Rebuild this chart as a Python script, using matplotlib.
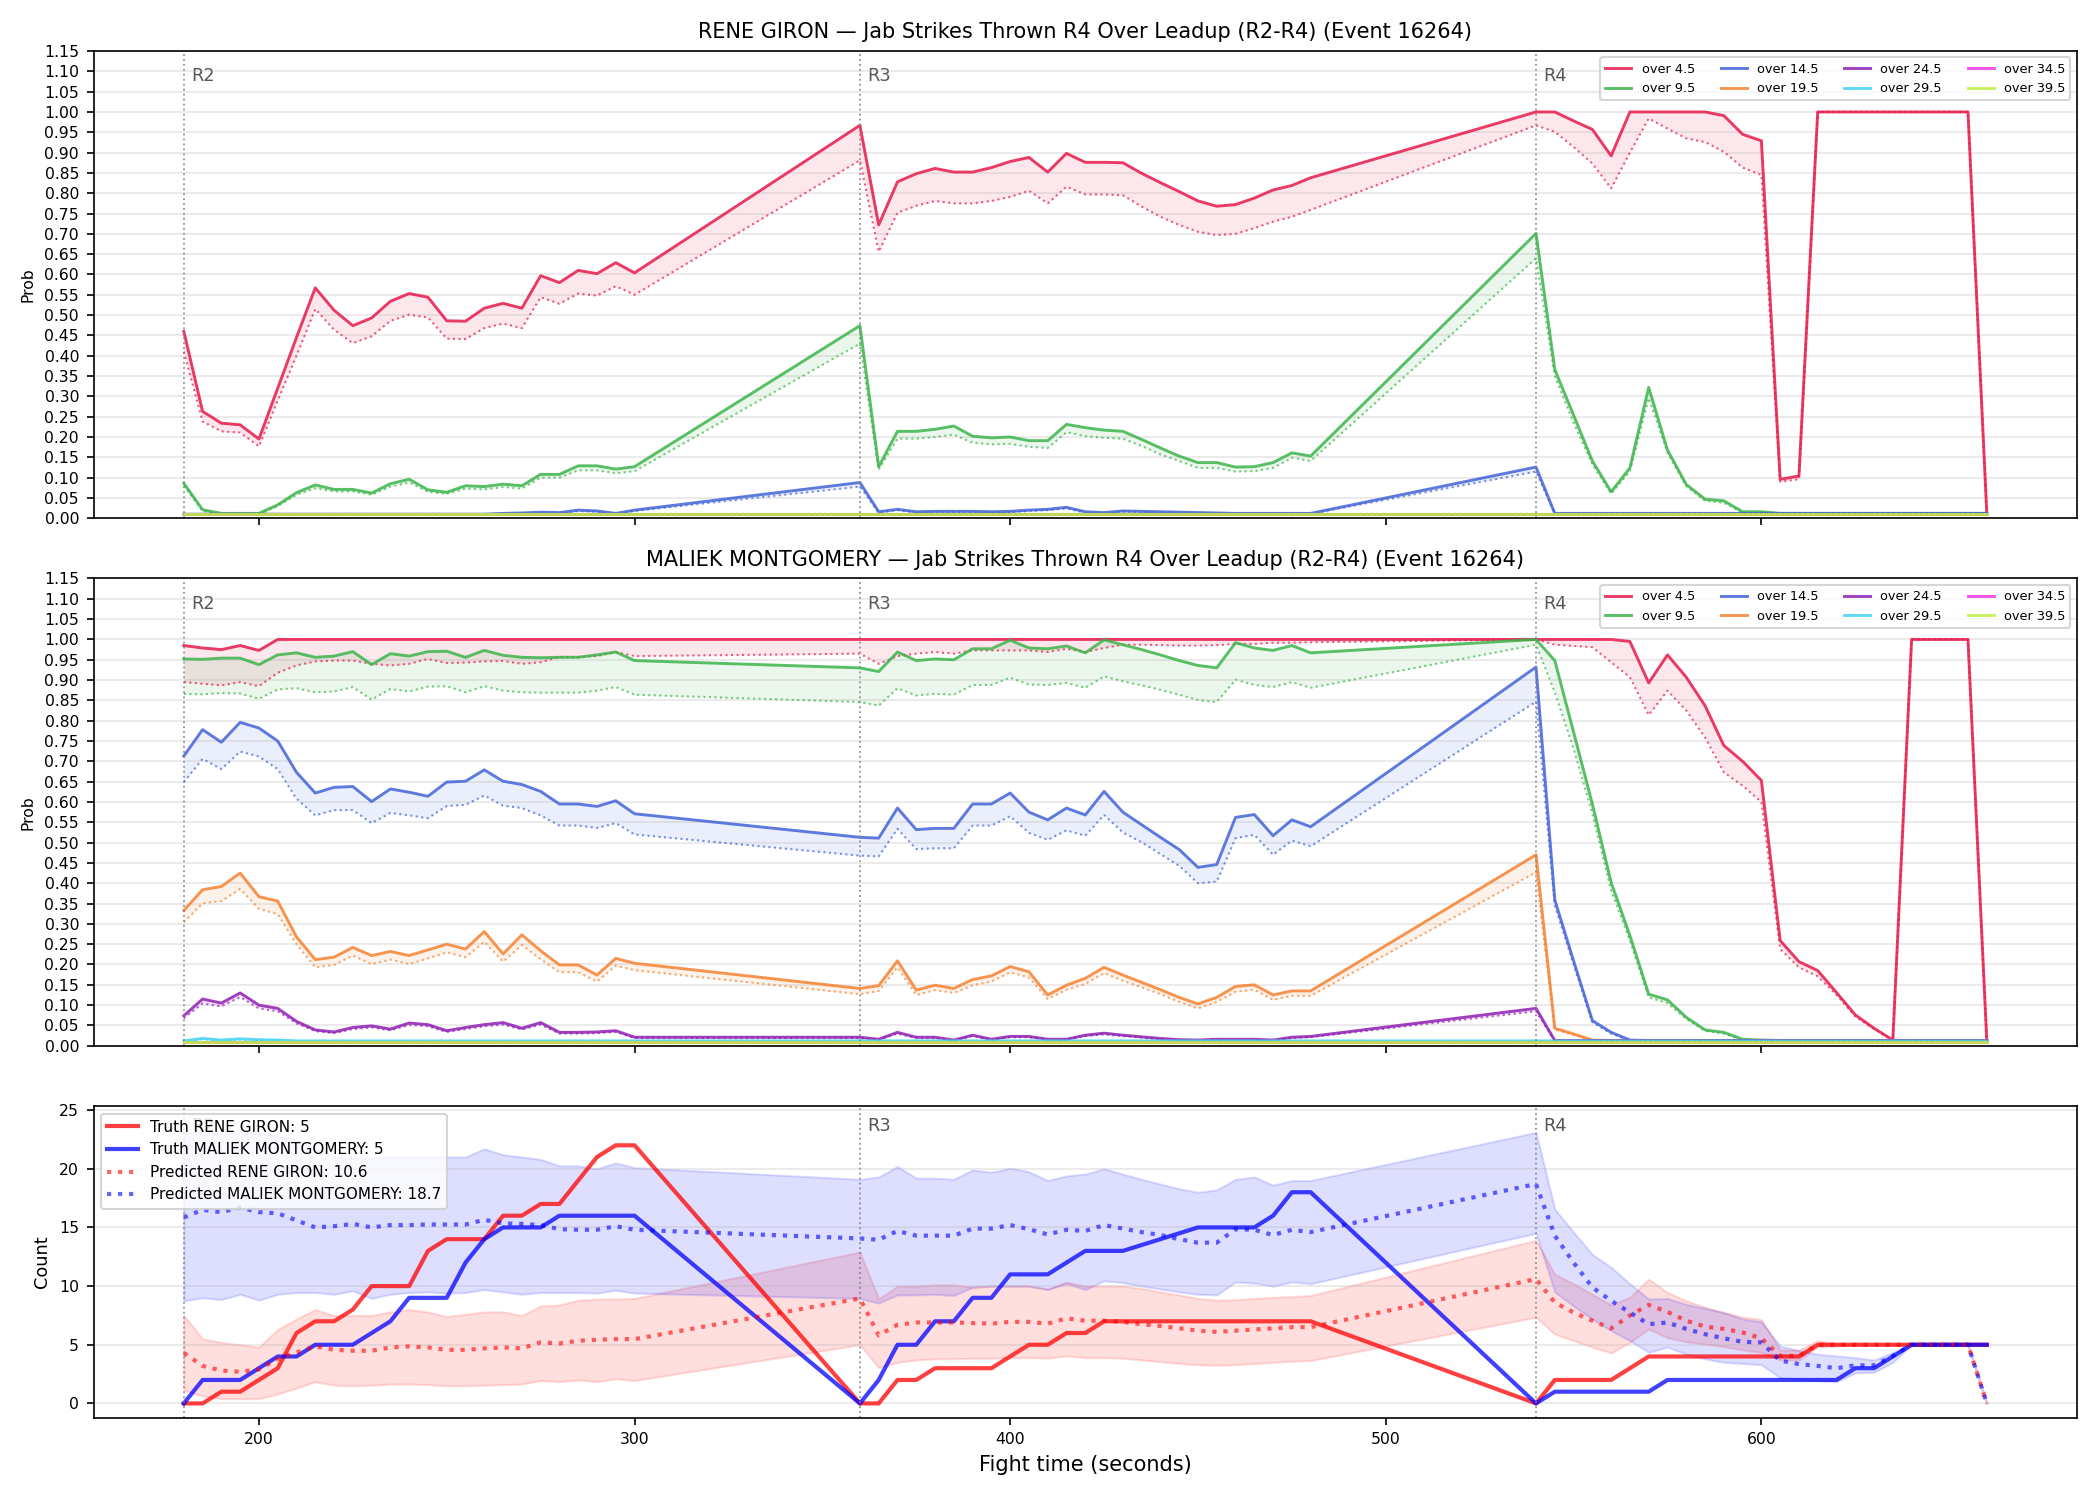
import matplotlib
matplotlib.use("Agg")
import matplotlib.pyplot as plt

# fight time stamps (s): R2, R3, R4 leadup windows
t = list(range(180, 301, 5)) + list(range(360, 481, 5)) + list(range(540, 661, 5))
rounds = [180, 360, 540]
round_names = ["R2", "R3", "R4"]

lines_names = ["over 4.5", "over 9.5", "over 14.5", "over 19.5",
               "over 24.5", "over 29.5", "over 34.5", "over 39.5"]
colors = ["#e6194b", "#3cb44b", "#4363d8", "#f58231",
          "#911eb4", "#42d4f4", "#f032e6", "#bfef45"]

# ---- RENE GIRON probabilities (solid) and lower dotted curve
giron_o45 = [0.46, 0.263, 0.234, 0.23, 0.195, 0.32, 0.445, 0.567, 0.512, 0.474, 0.493, 0.534, 0.553,
             0.544, 0.486, 0.485, 0.517, 0.529, 0.517, 0.597, 0.58, 0.61, 0.602, 0.629, 0.604,
             0.967, 0.722, 0.828, 0.848, 0.861, 0.852, 0.852, 0.863, 0.878, 0.888, 0.852, 0.898, 0.876,
             0.876, 0.875, 0.849, 0.826, 0.804, 0.781, 0.768, 0.772, 0.788, 0.808, 0.819, 0.838,
             1.0, 1.0, 0.978, 0.957, 0.892, 1.0, 1.0, 1.0, 1.0, 1.0, 0.991, 0.945, 0.929,
             0.096, 0.104, 1.0, 1.0, 1.0, 1.0, 1.0, 1.0, 1.0, 1.0, 1.0, 0.014]
giron_o45_lo = [0.41, 0.238, 0.214, 0.211, 0.177, 0.29, 0.40, 0.515, 0.464, 0.431, 0.448, 0.486, 0.501,
                0.494, 0.442, 0.441, 0.468, 0.479, 0.468, 0.544, 0.528, 0.553, 0.548, 0.571, 0.55,
                0.881, 0.656, 0.752, 0.769, 0.781, 0.775, 0.775, 0.781, 0.791, 0.806, 0.775, 0.816, 0.797,
                0.797, 0.795, 0.767, 0.742, 0.722, 0.705, 0.697, 0.7, 0.714, 0.73, 0.742, 0.759,
                0.967, 0.951, 0.914, 0.873, 0.812, 0.9, 0.984, 0.959, 0.935, 0.926, 0.902, 0.863, 0.845,
                0.09, 0.096, 1.0, 1.0, 1.0, 1.0, 1.0, 1.0, 1.0, 1.0, 1.0, 0.014]
giron_o95 = [0.086, 0.021, 0.012, 0.012, 0.012, 0.033, 0.063, 0.082, 0.071, 0.071, 0.062, 0.085, 0.096,
             0.07, 0.064, 0.08, 0.078, 0.084, 0.08, 0.108, 0.108, 0.129, 0.129, 0.121, 0.127,
             0.474, 0.127, 0.214, 0.214, 0.219, 0.227, 0.202, 0.198, 0.2, 0.191, 0.191, 0.231, 0.223,
             0.217, 0.214, 0.194, 0.173, 0.153, 0.137, 0.137, 0.126, 0.127, 0.137, 0.161, 0.153,
             0.701, 0.366, 0.254, 0.141, 0.065, 0.124, 0.322, 0.168, 0.083, 0.047, 0.043, 0.016, 0.016,
             0.012, 0.012, 0.012, 0.012, 0.012, 0.012, 0.012, 0.012, 0.012, 0.012, 0.012, 0.012]
giron_o95_lo = [0.08, 0.018, 0.01, 0.01, 0.01, 0.03, 0.058, 0.074, 0.066, 0.066, 0.058, 0.078, 0.088,
                0.065, 0.06, 0.073, 0.071, 0.077, 0.073, 0.1, 0.1, 0.118, 0.118, 0.111, 0.116,
                0.43, 0.12, 0.196, 0.196, 0.2, 0.206, 0.186, 0.182, 0.183, 0.176, 0.173, 0.212, 0.202,
                0.198, 0.196, 0.178, 0.157, 0.141, 0.124, 0.124, 0.115, 0.116, 0.124, 0.149, 0.141,
                0.64, 0.35, 0.235, 0.133, 0.061, 0.116, 0.296, 0.161, 0.079, 0.043, 0.038, 0.014, 0.014,
                0.011, 0.011, 0.011, 0.011, 0.011, 0.011, 0.011, 0.011, 0.011, 0.011, 0.011, 0.011]
giron_o145 = [0.01, 0.01, 0.01, 0.01, 0.01, 0.01, 0.01, 0.01, 0.01, 0.01, 0.01, 0.01, 0.01,
              0.01, 0.01, 0.01, 0.01, 0.012, 0.013, 0.015, 0.014, 0.02, 0.018, 0.012, 0.02,
              0.088, 0.016, 0.022, 0.016, 0.017, 0.017, 0.017, 0.016, 0.017, 0.02, 0.022, 0.027, 0.016,
              0.014, 0.018, 0.017, 0.016, 0.015, 0.014, 0.013, 0.012, 0.012, 0.012, 0.012, 0.012,
              0.126, 0.012, 0.012, 0.012, 0.012, 0.012, 0.012, 0.012, 0.012, 0.012, 0.012, 0.012, 0.012,
              0.012, 0.012, 0.012, 0.012, 0.012, 0.012, 0.012, 0.012, 0.012, 0.012, 0.012, 0.012]
giron_o145_lo = [0.01, 0.01, 0.01, 0.01, 0.01, 0.01, 0.01, 0.01, 0.01, 0.01, 0.01, 0.01, 0.01,
                 0.01, 0.01, 0.01, 0.01, 0.011, 0.012, 0.013, 0.012, 0.018, 0.016, 0.011, 0.018,
                 0.078, 0.014, 0.02, 0.014, 0.015, 0.015, 0.015, 0.014, 0.015, 0.018, 0.02, 0.024, 0.014,
                 0.013, 0.016, 0.015, 0.014, 0.013, 0.012, 0.012, 0.011, 0.011, 0.011, 0.011, 0.011,
                 0.115, 0.011, 0.011, 0.011, 0.011, 0.011, 0.011, 0.011, 0.011, 0.011, 0.011, 0.011, 0.011,
                 0.011, 0.011, 0.011, 0.011, 0.011, 0.011, 0.011, 0.011, 0.011, 0.011, 0.011, 0.011]
giron_flat = [0.01] * 75  # over 19.5 ... over 39.5 sit on the floor for the whole leadup

# ---- MALIEK MONTGOMERY probabilities
mont_o45 = [0.985, 0.979, 0.975, 0.985, 0.973, 1.0, 1.0, 1.0, 1.0, 1.0, 1.0, 1.0, 1.0,
            1.0, 1.0, 1.0, 1.0, 1.0, 1.0, 1.0, 1.0, 1.0, 1.0, 1.0, 1.0,
            1.0, 1.0, 1.0, 1.0, 1.0, 1.0, 1.0, 1.0, 1.0, 1.0, 1.0, 1.0, 1.0,
            1.0, 1.0, 1.0, 1.0, 1.0, 1.0, 1.0, 1.0, 1.0, 1.0, 1.0, 1.0,
            1.0, 1.0, 1.0, 1.0, 1.0, 0.995, 0.893, 0.962, 0.907, 0.837, 0.739, 0.7, 0.653,
            0.259, 0.207, 0.185, 0.131, 0.076, 0.043, 0.014, 1.0, 1.0, 1.0, 1.0, 0.014]
mont_o45_lo = [0.895, 0.891, 0.887, 0.895, 0.885, 0.918, 0.936, 0.946, 0.948, 0.948, 0.94, 0.936, 0.94,
               0.952, 0.942, 0.943, 0.946, 0.947, 0.94, 0.944, 0.957, 0.957, 0.959, 0.969, 0.959,
               0.965, 0.94, 0.959, 0.965, 0.969, 0.965, 0.973, 0.973, 0.973, 0.973, 0.969, 0.977, 0.969,
               0.979, 0.987, 0.987, 0.986, 0.985, 0.985, 0.986, 0.989, 0.989, 0.992, 0.992, 0.993,
               1.0, 0.987, 0.984, 0.981, 0.944, 0.907, 0.814, 0.874, 0.825, 0.759, 0.673, 0.64, 0.6,
               0.238, 0.193, 0.171, 0.125, 0.072, 0.041, 0.014, 1.0, 1.0, 1.0, 1.0, 0.014]
mont_o95 = [0.952, 0.951, 0.954, 0.954, 0.938, 0.962, 0.967, 0.956, 0.959, 0.97, 0.938, 0.965, 0.959,
            0.97, 0.971, 0.956, 0.973, 0.961, 0.956, 0.955, 0.956, 0.956, 0.962, 0.969, 0.948,
            0.93, 0.921, 0.969, 0.948, 0.952, 0.95, 0.977, 0.977, 0.998, 0.979, 0.977, 0.984, 0.967,
            0.999, 0.987, 0.975, 0.962, 0.948, 0.936, 0.93, 0.992, 0.979, 0.973, 0.985, 0.967,
            1.0, 0.948, 0.772, 0.595, 0.402, 0.271, 0.127, 0.113, 0.07, 0.039, 0.033, 0.016, 0.014,
            0.013, 0.013, 0.013, 0.013, 0.013, 0.013, 0.013, 0.013, 0.013, 0.013, 0.013, 0.013]
mont_o95_lo = [0.866, 0.865, 0.868, 0.867, 0.854, 0.877, 0.88, 0.87, 0.872, 0.883, 0.852, 0.878, 0.872,
               0.884, 0.885, 0.87, 0.885, 0.874, 0.87, 0.869, 0.869, 0.869, 0.874, 0.883, 0.864,
               0.846, 0.837, 0.88, 0.862, 0.866, 0.864, 0.888, 0.888, 0.906, 0.889, 0.888, 0.893, 0.881,
               0.909, 0.897, 0.887, 0.876, 0.864, 0.851, 0.846, 0.901, 0.888, 0.883, 0.895, 0.881,
               0.987, 0.87, 0.731, 0.571, 0.382, 0.259, 0.119, 0.105, 0.066, 0.037, 0.03, 0.014, 0.012,
               0.012, 0.012, 0.012, 0.012, 0.012, 0.012, 0.012, 0.012, 0.012, 0.012, 0.012, 0.012]
mont_o145 = [0.713, 0.778, 0.747, 0.796, 0.782, 0.75, 0.673, 0.622, 0.636, 0.638, 0.601, 0.632, 0.624,
             0.614, 0.649, 0.651, 0.679, 0.651, 0.643, 0.626, 0.595, 0.595, 0.589, 0.603, 0.571,
             0.513, 0.511, 0.585, 0.532, 0.535, 0.535, 0.595, 0.595, 0.622, 0.575, 0.556, 0.585, 0.568,
             0.626, 0.575, 0.544, 0.513, 0.483, 0.439, 0.446, 0.562, 0.569, 0.517, 0.556, 0.539,
             0.932, 0.359, 0.209, 0.062, 0.033, 0.014, 0.013, 0.013, 0.013, 0.013, 0.013, 0.013, 0.013,
             0.013, 0.013, 0.013, 0.013, 0.013, 0.013, 0.013, 0.013, 0.013, 0.013, 0.013, 0.013]
mont_o145_lo = [0.649, 0.706, 0.681, 0.724, 0.712, 0.681, 0.608, 0.567, 0.58, 0.58, 0.548, 0.573, 0.567,
                0.56, 0.59, 0.593, 0.616, 0.591, 0.585, 0.567, 0.542, 0.542, 0.536, 0.548, 0.52,
                0.468, 0.466, 0.534, 0.484, 0.486, 0.486, 0.542, 0.542, 0.565, 0.524, 0.507, 0.53, 0.517,
                0.568, 0.525, 0.501, 0.472, 0.443, 0.4, 0.404, 0.511, 0.519, 0.47, 0.505, 0.491,
                0.847, 0.345, 0.2, 0.058, 0.03, 0.013, 0.012, 0.012, 0.012, 0.012, 0.012, 0.012, 0.012,
                0.012, 0.012, 0.012, 0.012, 0.012, 0.012, 0.012, 0.012, 0.012, 0.012, 0.012, 0.012]
mont_o195 = [0.333, 0.384, 0.392, 0.425, 0.367, 0.356, 0.268, 0.212, 0.218, 0.242, 0.222, 0.232, 0.222,
             0.236, 0.25, 0.238, 0.281, 0.226, 0.273, 0.234, 0.199, 0.199, 0.174, 0.215, 0.203,
             0.141, 0.148, 0.209, 0.137, 0.149, 0.141, 0.163, 0.172, 0.195, 0.182, 0.125, 0.149, 0.166,
             0.193, 0.174, 0.156, 0.138, 0.119, 0.103, 0.119, 0.146, 0.15, 0.125, 0.135, 0.135,
             0.47, 0.043, 0.029, 0.014, 0.013, 0.013, 0.013, 0.013, 0.013, 0.013, 0.013, 0.013, 0.013,
             0.013, 0.013, 0.013, 0.013, 0.013, 0.013, 0.013, 0.013, 0.013, 0.013, 0.013, 0.013]
mont_o195_lo = [0.304, 0.351, 0.356, 0.386, 0.337, 0.324, 0.25, 0.193, 0.199, 0.222, 0.201, 0.212, 0.201,
                0.215, 0.23, 0.218, 0.256, 0.207, 0.248, 0.213, 0.181, 0.181, 0.158, 0.197, 0.186,
                0.127, 0.135, 0.193, 0.125, 0.137, 0.13, 0.149, 0.158, 0.181, 0.168, 0.115, 0.138, 0.152,
                0.179, 0.16, 0.144, 0.127, 0.108, 0.092, 0.108, 0.133, 0.138, 0.113, 0.123, 0.123,
                0.427, 0.04, 0.027, 0.013, 0.012, 0.012, 0.012, 0.012, 0.012, 0.012, 0.012, 0.012, 0.012,
                0.012, 0.012, 0.012, 0.012, 0.012, 0.012, 0.012, 0.012, 0.012, 0.012, 0.012, 0.012]
mont_o245 = [0.074, 0.115, 0.105, 0.13, 0.1, 0.092, 0.06, 0.039, 0.034, 0.045, 0.049, 0.041, 0.056,
             0.052, 0.037, 0.045, 0.052, 0.057, 0.043, 0.057, 0.033, 0.033, 0.034, 0.037, 0.021,
             0.021, 0.016, 0.033, 0.021, 0.021, 0.014, 0.026, 0.016, 0.023, 0.023, 0.016, 0.016, 0.026,
             0.031, 0.026, 0.022, 0.018, 0.015, 0.014, 0.016, 0.016, 0.016, 0.014, 0.021, 0.023,
             0.092, 0.013, 0.013, 0.013, 0.013, 0.013, 0.013, 0.013, 0.013, 0.013, 0.013, 0.013, 0.013,
             0.013, 0.013, 0.013, 0.013, 0.013, 0.013, 0.013, 0.013, 0.013, 0.013, 0.013, 0.013]
mont_o245_lo = [0.068, 0.104, 0.097, 0.12, 0.092, 0.085, 0.055, 0.036, 0.031, 0.041, 0.045, 0.038, 0.051,
                0.048, 0.034, 0.041, 0.048, 0.052, 0.04, 0.052, 0.03, 0.03, 0.031, 0.034, 0.019,
                0.019, 0.015, 0.03, 0.019, 0.019, 0.013, 0.024, 0.015, 0.021, 0.021, 0.015, 0.015, 0.024,
                0.028, 0.024, 0.02, 0.016, 0.014, 0.013, 0.015, 0.015, 0.015, 0.013, 0.019, 0.021,
                0.085, 0.012, 0.012, 0.012, 0.012, 0.012, 0.012, 0.012, 0.012, 0.012, 0.012, 0.012, 0.012,
                0.012, 0.012, 0.012, 0.012, 0.012, 0.012, 0.012, 0.012, 0.012, 0.012, 0.012, 0.012]
mont_o295 = [0.012, 0.018, 0.014, 0.017, 0.015, 0.014] + [0.012] * 69
mont_o295_lo = [0.011, 0.016, 0.013, 0.015, 0.014, 0.013] + [0.011] * 69
mont_flat = [0.01] * 75  # over 34.5 / over 39.5

# ---- counts panel
truth_giron = [0, 0, 1, 1, 2, 3, 6, 7, 7, 8, 10, 10, 10, 13, 14, 14, 14, 16, 16, 17, 17, 19, 21, 22, 22,
               0, 0, 2, 2, 3, 3, 3, 3, 4, 5, 5, 6, 6, 7, 7, 7, 7, 7, 7, 7, 7, 7, 7, 7, 7,
               0, 2, 2, 2, 2, 3, 4, 4, 4, 4, 4, 4, 4, 4, 4, 5, 5, 5, 5, 5, 5, 5, 5, 5, 5]
truth_mont = [0, 2, 2, 2, 3, 4, 4, 5, 5, 5, 6, 7, 9, 9, 9, 12, 14, 15, 15, 15, 16, 16, 16, 16, 16,
              0, 2, 5, 5, 7, 7, 9, 9, 11, 11, 11, 12, 13, 13, 13, 13.5, 14, 14.5, 15, 15, 15, 15, 16, 18, 18,
              0, 1, 1, 1, 1, 1, 1, 2, 2, 2, 2, 2, 2, 2, 2, 2, 2, 3, 3, 4, 5, 5, 5, 5, 5]
pred_giron = [4.3, 3.2, 2.8, 2.7, 2.9, 3.8, 4.35, 4.86, 4.57, 4.49, 4.49, 4.77, 4.86, 4.77, 4.57, 4.57,
              4.69, 4.77, 4.69, 5.2, 5.11, 5.34, 5.43, 5.48, 5.48,
              8.95, 5.8, 6.7, 6.9, 6.9, 6.9, 6.85, 6.8, 6.95, 6.95, 6.8, 7.25, 7.05, 7.05, 6.95, 6.75,
              6.6, 6.4, 6.2, 6.1, 6.2, 6.3, 6.4, 6.5, 6.5,
              10.6, 8.6, 7.75, 7.05, 6.4, 7.5, 8.4, 7.8, 7.05, 6.55, 6.35, 6.05, 5.55, 4.05, 4.05,
              5, 5, 5, 5, 5, 5, 5, 5, 5, 0]
pred_giron_hi = [7.5, 5.5, 5.2, 5.0, 4.8, 6.3, 7.2, 8.0, 7.5, 7.5, 7.5, 7.8, 8.0, 7.8, 7.4, 7.6, 7.8, 7.8,
                 7.5, 8.3, 8.4, 8.8, 8.9, 8.9, 8.95,
                 12.9, 8.9, 10.0, 10.0, 10.1, 10.1, 9.9, 10.0, 10.0, 10.0, 9.75, 10.35, 10.0, 10.0, 10.0,
                 9.8, 9.5, 9.25, 8.95, 8.8, 8.85, 8.95, 9.05, 9.1, 9.2,
                 13.9, 11.0, 10.2, 9.3, 8.4, 9.05, 10.6, 9.45, 8.75, 8.2, 7.75, 7.35, 7.15, 4.55, 4.55,
                 5.35, 5.1, 5.05, 5, 5, 5, 5, 5, 5, 0]
pred_giron_lo = [1.1, 0.65, 0.4, 0.4, 0.4, 0.8, 1.3, 1.85, 1.55, 1.5, 1.55, 1.65, 1.65, 1.6, 1.5, 1.5,
                 1.55, 1.6, 1.65, 1.95, 1.85, 2.0, 1.85, 2.1, 1.95,
                 5.0, 3.05, 3.5, 3.7, 3.8, 3.8, 3.85, 3.85, 3.9, 3.9, 3.85, 4.05, 3.9, 3.9, 3.85, 3.7,
                 3.55, 3.4, 3.3, 3.25, 3.3, 3.4, 3.5, 3.6, 3.65,
                 7.35, 5.9, 5.35, 4.8, 4.3, 5.2, 6.35, 5.6, 5.25, 5.05, 4.85, 4.55, 4.35, 3.7, 3.7,
                 4.8, 4.9, 4.95, 5, 5, 5, 5, 5, 5, 0]
pred_mont = [15.85, 16.5, 16.3, 16.7, 16.3, 16.2, 15.6, 15.0, 15.1, 15.3, 15.0, 15.2, 15.2, 15.25, 15.25,
             15.25, 15.65, 15.35, 15.3, 15.2, 14.85, 14.8, 14.8, 15.1, 14.8,
             14.06, 13.95, 14.7, 14.3, 14.3, 14.3, 14.9, 14.9, 15.2, 14.85, 14.4, 14.8, 14.7, 15.2, 14.9,
             14.6, 14.35, 14.0, 13.7, 13.7, 14.85, 14.8, 14.35, 14.8, 14.6,
             18.7, 14.3, 12.0, 9.9, 8.75, 7.75, 6.75, 6.9, 6.35, 5.9, 5.55, 5.25, 5.2, 3.65, 3.35,
             3.2, 3.0, 3.25, 3.25, 4.05, 5, 5, 5, 5, 0]
pred_mont_hi = [23.0, 23.2, 23.0, 23.1, 23.0, 22.8, 22.5, 21.8, 21.0, 20.9, 20.9, 21.0, 21.0, 21.0, 21.0,
                21.0, 21.7, 21.2, 21.0, 20.8, 20.25, 20.25, 20.0, 20.5, 20.1,
                19.1, 19.3, 20.2, 19.2, 19.2, 19.1, 19.9, 19.7, 20.05, 19.75, 19.0, 19.4, 19.55, 20.0, 19.55,
                19.1, 18.7, 18.3, 18.0, 18.2, 19.1, 19.3, 18.6, 19.0, 19.0,
                23.1, 16.55, 14.6, 12.7, 11.6, 10.2, 8.9, 8.95, 8.45, 8.1, 7.75, 7.2, 6.95, 4.9, 4.5,
                4.2, 4.05, 3.9, 3.7, 4.35, 5, 5, 5, 5, 0]
pred_mont_lo = [8.75, 9.0, 8.85, 9.3, 8.8, 9.3, 9.45, 9.45, 9.3, 9.6, 8.95, 9.3, 9.45, 9.5, 9.4, 9.45,
                9.7, 9.5, 9.3, 9.45, 9.45, 9.45, 9.4, 9.65, 9.4,
                8.95, 8.55, 9.25, 9.25, 9.3, 9.2, 9.9, 10.0, 10.0, 10.0, 9.7, 10.2, 9.7, 10.45, 10.3,
                10.0, 9.75, 9.5, 9.3, 9.25, 10.35, 10.25, 10.0, 10.35, 10.2,
                14.5, 9.5, 8.3, 7.2, 6.2, 5.35, 4.35, 4.8, 4.2, 3.8, 3.5, 3.4, 3.3, 2.2, 2.05,
                1.95, 1.85, 2.6, 2.65, 3.5, 5, 5, 5, 5, 0]

giron_series = [(giron_o45, giron_o45_lo), (giron_o95, giron_o95_lo), (giron_o145, giron_o145_lo),
                (giron_flat, giron_flat), (giron_flat, giron_flat), (giron_flat, giron_flat),
                (giron_flat, giron_flat), (giron_flat, giron_flat)]
mont_series = [(mont_o45, mont_o45_lo), (mont_o95, mont_o95_lo), (mont_o145, mont_o145_lo),
               (mont_o195, mont_o195_lo), (mont_o245, mont_o245_lo), (mont_o295, mont_o295_lo),
               (mont_flat, mont_flat), (mont_flat, mont_flat)]


def mark_rounds(ax):
    for x, name in zip(rounds, round_names):
        ax.axvline(x, color="gray", linestyle=":", linewidth=0.9, alpha=0.8)
        ax.text(x + 2, 0.965, name, transform=ax.get_xaxis_transform(),
                fontsize=8.5, color="#555555", va="top", zorder=1)


def prob_panel(ax, series, title):
    for (solid, dotted), name, c in zip(series, lines_names, colors):
        ax.plot(t, solid, color=c, linewidth=1.4, alpha=0.85, label=name)
        ax.plot(t, dotted, color=c, linewidth=1.0, linestyle=":", alpha=0.7)
        ax.fill_between(t, solid, dotted, color=c, alpha=0.1, linewidth=0)
    ax.set_ylim(0, 1.15)
    ax.set_yticks([i * 0.05 for i in range(24)])
    ax.set_yticklabels([f"{i * 0.05:.2f}" for i in range(24)])
    ax.set_ylabel("Prob", fontsize=7.5)
    ax.set_title(title, fontsize=10)
    ax.grid(axis="y", alpha=0.3)
    ax.tick_params(labelsize=7.5)
    mark_rounds(ax)
    ax.legend(loc="upper right", ncol=4, fontsize=6.2)


fig, axes = plt.subplots(3, 1, figsize=(14, 10), dpi=150, sharex=True,
                         gridspec_kw={"height_ratios": [3, 3, 2]})
fig.subplots_adjust(left=0.0446, right=0.989, top=0.966, bottom=0.055, hspace=0.145)

prob_panel(axes[0], giron_series,
           "RENE GIRON \u2014 Jab Strikes Thrown R4 Over Leadup (R2-R4) (Event 16264)")
prob_panel(axes[1], mont_series,
           "MALIEK MONTGOMERY \u2014 Jab Strikes Thrown R4 Over Leadup (R2-R4) (Event 16264)")

ax = axes[2]
ax.fill_between(t, pred_giron_lo, pred_giron_hi, color="red", alpha=0.13)
ax.fill_between(t, pred_mont_lo, pred_mont_hi, color="blue", alpha=0.13)
ax.plot(t, truth_giron, color="red", linewidth=2, alpha=0.75,
        label=f"Truth RENE GIRON: {truth_giron[-1]}")
ax.plot(t, truth_mont, color="blue", linewidth=2, alpha=0.75,
        label=f"Truth MALIEK MONTGOMERY: {truth_mont[-1]}")
ax.plot(t, pred_giron, color="red", linewidth=2, linestyle=":", alpha=0.6,
        label=f"Predicted RENE GIRON: {pred_giron[t.index(540)]}")
ax.plot(t, pred_mont, color="blue", linewidth=2, linestyle=":", alpha=0.6,
        label=f"Predicted MALIEK MONTGOMERY: {pred_mont[t.index(540)]}")
ax.set_ylim(-1.2, 25.35)
ax.set_ylabel("Count", fontsize=8.5)
ax.set_xlabel("Fight time (seconds)", fontsize=10)
ax.grid(axis="y", alpha=0.3)
ax.tick_params(labelsize=7.5)
mark_rounds(ax)
leg = ax.legend(loc="upper left", fontsize=7.3)
leg.set_zorder(5)

fig.savefig("out.png", dpi=150)
